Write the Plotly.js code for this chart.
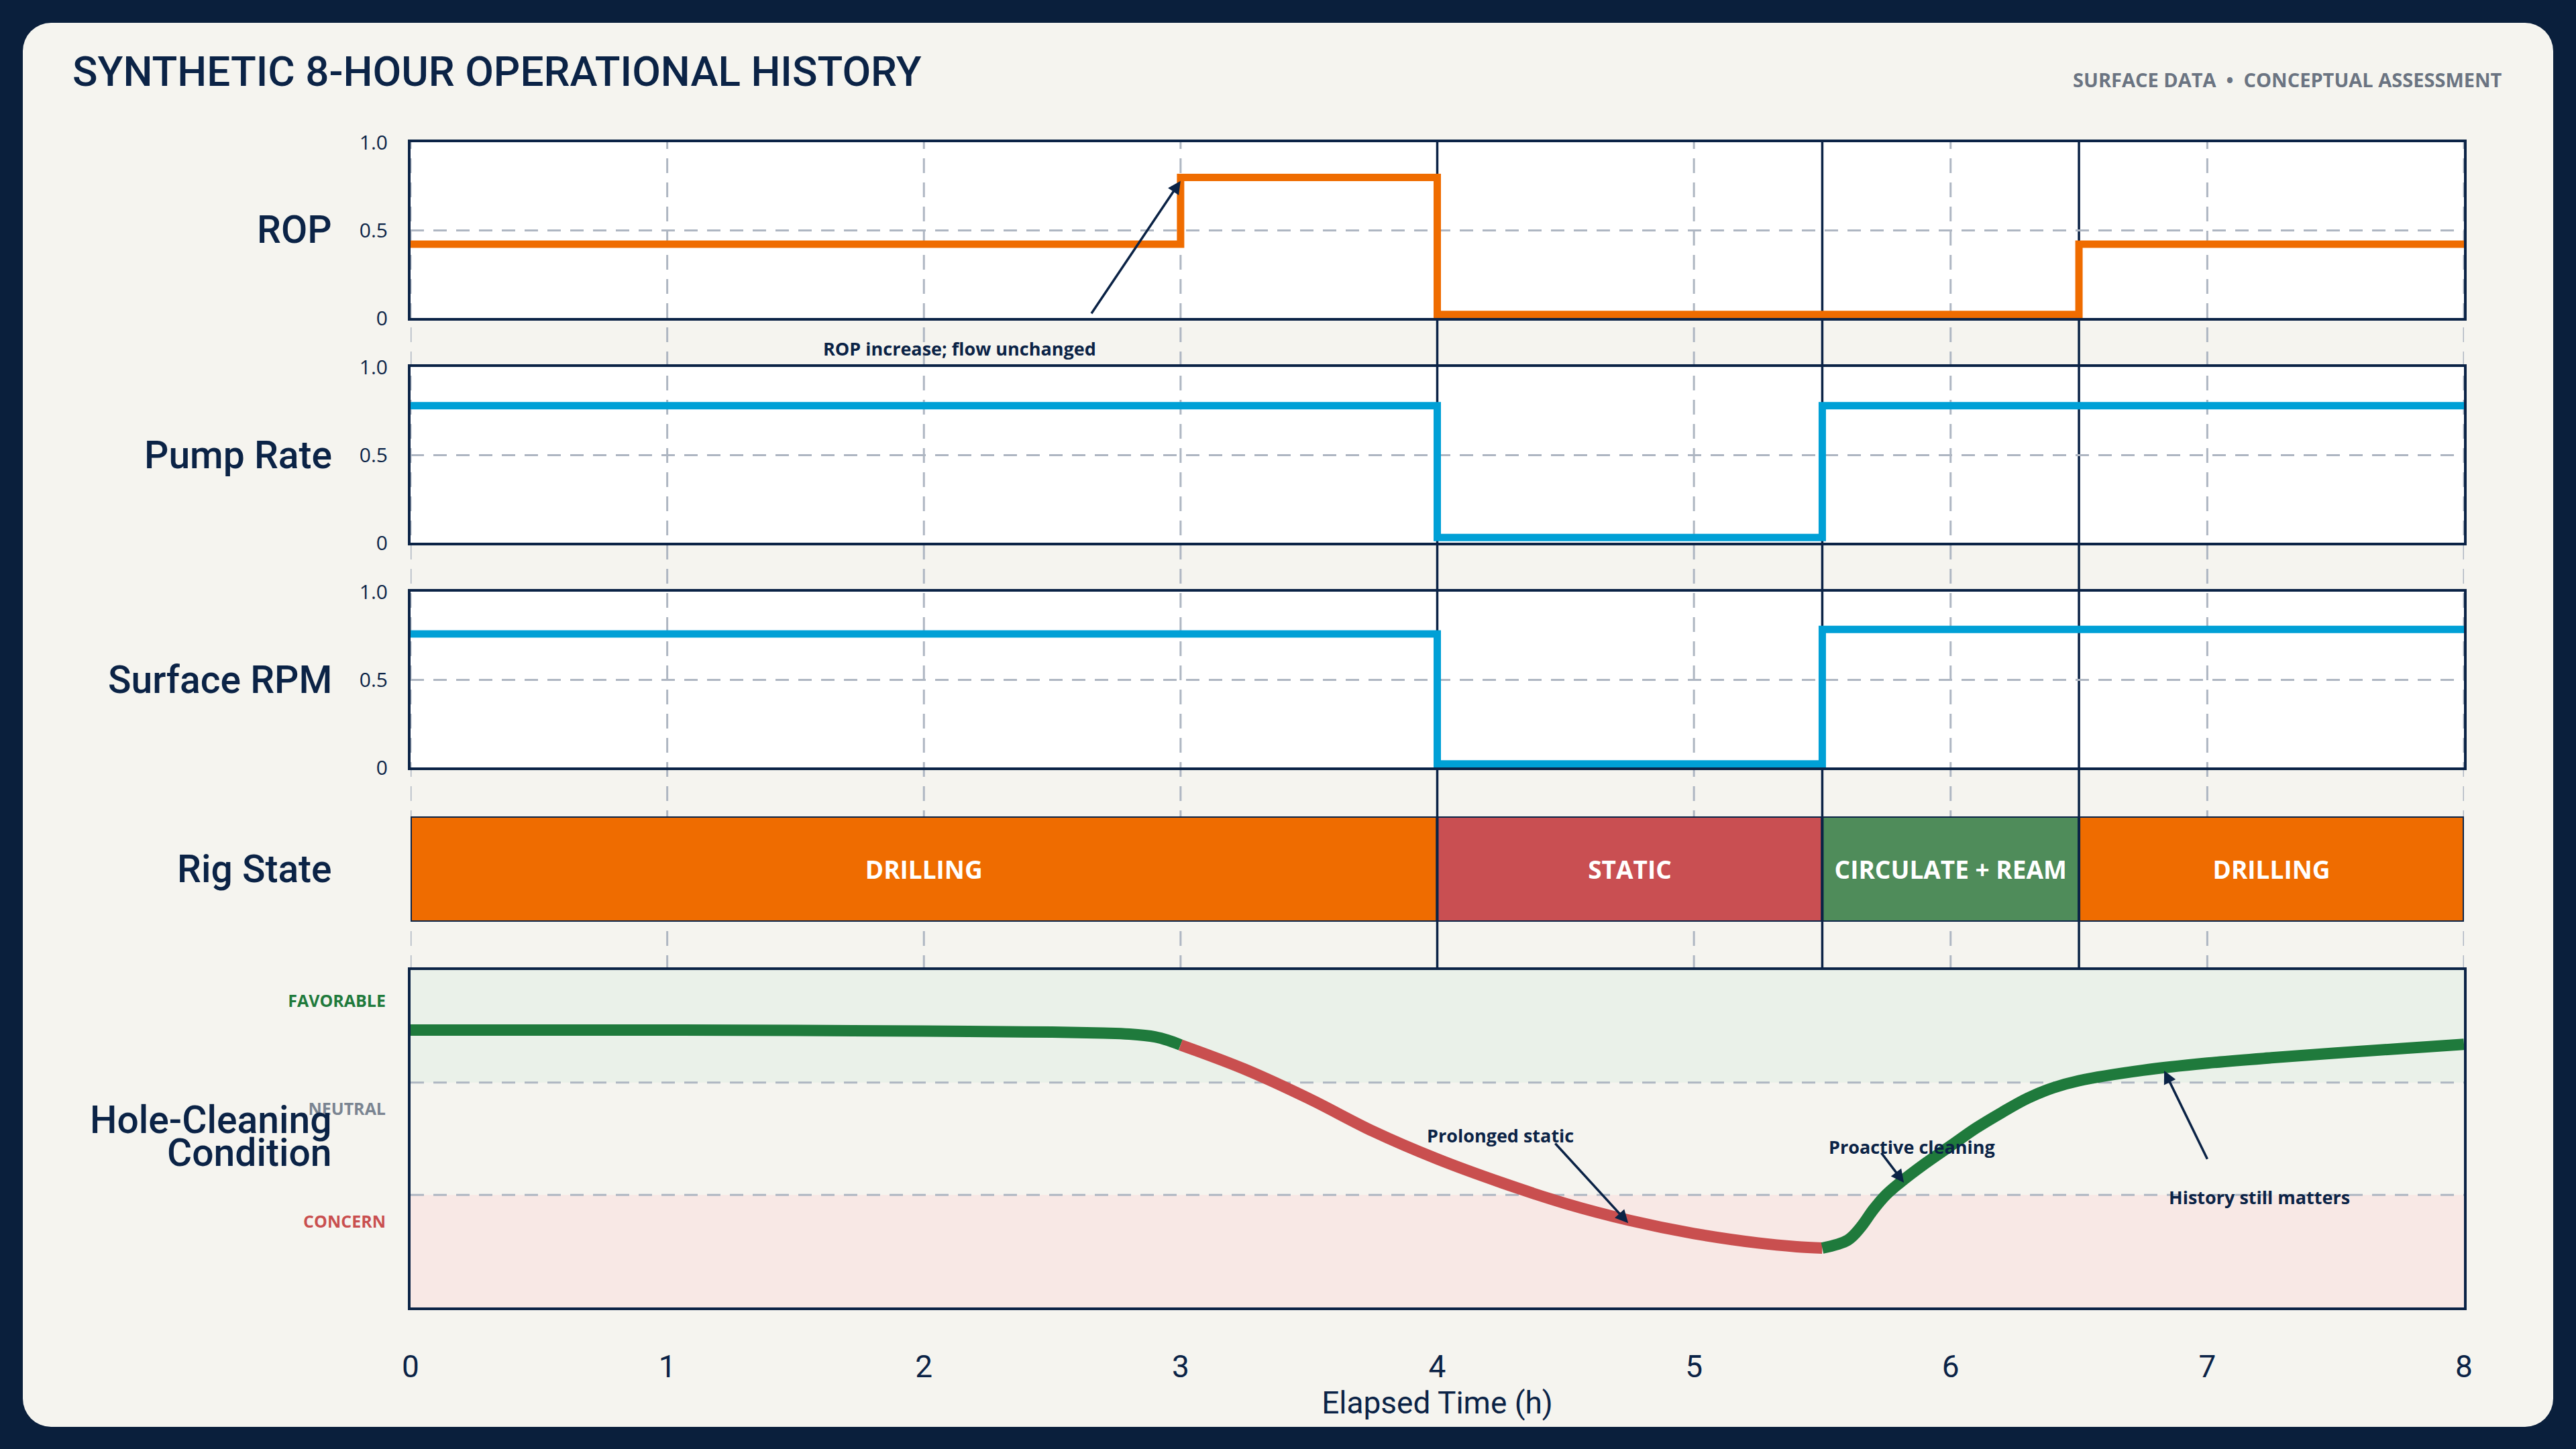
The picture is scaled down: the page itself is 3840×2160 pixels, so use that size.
<!DOCTYPE html>
<html>
<head>
<meta charset="utf-8">
<script src="https://cdn.plot.ly/plotly-3.0.1.min.js"></script>
<style>
  html, body { margin: 0; padding: 0; width: 3840px; height: 2160px; overflow: hidden; background: #0a1f3c; }
  #card { position: absolute; left: 34px; top: 34px; width: 3772px; height: 2093px; background: #f5f4ef; border-radius: 42px; }
  #chart { position: absolute; left: 0; top: 0; width: 3840px; height: 2160px; }
</style>
</head>
<body>
<div id="card"></div>
<div id="chart"></div>
<script>
// elapsed hours shown on the shared time axis
const hours = [0, 1, 2, 3, 4, 5, 6, 7, 8];

// step signals (normalised 0..1)
const ropTimes = [0, 3, 4, 6.5, 8];
const ropValues = [0.42, 0.80, 0.02, 0.42, 0.42];
const pumpTimes = [0, 4, 5.5, 8];
const pumpValues = [0.78, 0.03, 0.78, 0.78];
const rpmTimes = [0, 4, 5.5, 8];
const rpmValues = [0.76, 0.02, 0.785, 0.785];

// rig state blocks
const rigStates = ['DRILLING', 'STATIC', 'CIRCULATE + REAM', 'DRILLING'];
const rigStart = [0, 4, 5.5, 6.5];
const rigEnd = [4, 5.5, 6.5, 8];
const phaseBreaks = [4, 5.5, 6.5];

// hole-cleaning condition, split by colour
const hcDrillT = [0, 0.5, 1.0, 1.5, 2.0, 2.5, 2.7, 2.8, 2.9, 2.95, 3.0];
const hcDrillV = [0.822, 0.822, 0.822, 0.821, 0.819, 0.816, 0.813, 0.810, 0.802, 0.792, 0.778];
const hcStaticT = [3.0, 3.25, 3.5, 3.75, 4.0, 4.25, 4.5, 4.75, 5.0, 5.25, 5.4, 5.5];
const hcStaticV = [0.778, 0.706, 0.619, 0.522, 0.440, 0.370, 0.308, 0.258, 0.219, 0.191, 0.180, 0.176];
const hcRecoverT = [5.5, 5.6, 5.65, 5.7, 5.75, 5.8, 5.9, 6.0, 6.1, 6.2, 6.3, 6.4, 6.5, 6.75, 7.0, 7.25, 7.5, 7.75, 8.0];
const hcRecoverV = [0.176, 0.200, 0.238, 0.291, 0.335, 0.368, 0.426, 0.479, 0.532, 0.578, 0.620, 0.651, 0.672, 0.703, 0.724, 0.740, 0.754, 0.767, 0.780];

const conditionLabels = ['CONCERN', 'NEUTRAL', 'FAVORABLE'];
const conditionTicks = [0.253, 0.587, 0.909];
const bandEdges = [0, 1 / 3, 2 / 3, 1];

const NAVY = '#0b2346';
const ORANGE = '#ef6c00';
const BLUE = '#00a0d6';
const GREEN = '#1f7a3c';
const RED = '#c94f4f';
const GRID = '#aeb6c2';
const rigColors = [ORANGE, '#c94f52', '#4f8c5a', ORANGE];
const condColors = [RED, '#7a8491', GREEN];

// panel placement (paper fractions, margin 0)
const W = 3840, H = 2160;
const X0 = 612 / W, X1 = 3673 / W;
const dom = (top, bot) => [1 - bot / H, 1 - top / H];
const dRop = dom(212, 474), dPump = dom(547, 809), dRpm = dom(882, 1144);
const dRig = dom(1217, 1374), dHole = dom(1446, 1949);

const traces = [
  { x: ropTimes, y: ropValues, xaxis: 'x', yaxis: 'y', mode: 'lines',
    line: { shape: 'hv', color: ORANGE, width: 11 } },
  { x: pumpTimes, y: pumpValues, xaxis: 'x2', yaxis: 'y2', mode: 'lines',
    line: { shape: 'hv', color: BLUE, width: 11 } },
  { x: rpmTimes, y: rpmValues, xaxis: 'x3', yaxis: 'y3', mode: 'lines',
    line: { shape: 'hv', color: BLUE, width: 11 } },
  { type: 'bar', orientation: 'h', xaxis: 'x4', yaxis: 'y4',
    y: rigStates.map(() => 0), base: rigStart,
    x: rigEnd.map((e, i) => e - rigStart[i]),
    width: 1, text: rigStates, textposition: 'inside', insidetextanchor: 'middle',
    constraintext: 'none', textangle: 0,
    textfont: { family: 'Open Sans', size: 37, color: '#ffffff', weight: 700 },
    marker: { color: rigColors, line: { color: NAVY, width: 4 } } },
  { x: hcDrillT, y: hcDrillV, xaxis: 'x5', yaxis: 'y5', mode: 'lines',
    line: { color: GREEN, width: 17, shape: 'spline', smoothing: 1 } },
  { x: hcStaticT, y: hcStaticV, xaxis: 'x5', yaxis: 'y5', mode: 'lines',
    line: { color: RED, width: 17, shape: 'spline', smoothing: 1 } },
  { x: hcRecoverT, y: hcRecoverV, xaxis: 'x5', yaxis: 'y5', mode: 'lines',
    line: { color: GREEN, width: 17, shape: 'spline', smoothing: 1 } }
];

const xBase = {
  domain: [X0, X1], range: [0, 8], showgrid: false, zeroline: false,
  showline: true, mirror: true, linecolor: NAVY, linewidth: 4,
  ticks: '', showticklabels: false, automargin: false
};
const yBase = {
  range: [0, 1], tickvals: [0, 0.5, 1], ticktext: ['0', '0.5', '1.0'],
  showgrid: true, gridcolor: GRID, gridwidth: 3, griddash: '20px,14px',
  zeroline: false, showline: true, mirror: true, linecolor: NAVY, linewidth: 4,
  ticks: '', ticklabelstandoff: 24, automargin: false,
  tickfont: { family: 'Open Sans', size: 30, color: NAVY }
};

const shapes = [];
// white panel backgrounds
[dRop, dPump, dRpm].forEach(d => shapes.push({
  type: 'rect', layer: 'below', xref: 'paper', yref: 'paper',
  x0: X0, x1: X1, y0: d[0], y1: d[1], fillcolor: '#ffffff', line: { width: 0 }
}));
// hole-cleaning bands
shapes.push({ type: 'rect', layer: 'below', xref: 'paper', yref: 'y5', x0: X0, x1: X1,
  y0: bandEdges[2], y1: bandEdges[3], fillcolor: '#eaf1e9', line: { width: 0 } });
shapes.push({ type: 'rect', layer: 'below', xref: 'paper', yref: 'y5', x0: X0, x1: X1,
  y0: bandEdges[0], y1: bandEdges[1], fillcolor: '#f8e8e5', line: { width: 0 } });
// hourly dashed guides
hours.forEach(h => shapes.push({
  type: 'line', layer: 'below', xref: 'x', yref: 'paper', x0: h, x1: h,
  y0: dHole[1], y1: dRop[1], line: { color: GRID, width: 3, dash: '22px,14px' }
}));
// phase boundaries
phaseBreaks.forEach(h => shapes.push({
  type: 'line', layer: 'below', xref: 'x', yref: 'paper', x0: h, x1: h,
  y0: dHole[1], y1: dRop[1], line: { color: NAVY, width: 3.5 }
}));
// condition band separators
[bandEdges[1], bandEdges[2]].forEach(v => shapes.push({
  type: 'line', layer: 'below', xref: 'paper', yref: 'y5', x0: X0, x1: X1,
  y0: v, y1: v, line: { color: GRID, width: 3, dash: '20px,14px' }
}));

const labelFont = { family: 'Roboto', size: 57, color: NAVY, weight: 500 };
const noteFont = { family: 'Open Sans', size: 27, color: NAVY, weight: 700 };
const LX = 497 / W;
const panelLabel = (text, yref, y) => ({
  text, xref: 'paper', x: LX, xanchor: 'right', yref, y, yanchor: 'middle',
  showarrow: false, font: labelFont, align: 'right'
});
const arrow = (xr, yr, x, y, ax, ay) => ({
  text: '', xref: xr, yref: yr, x, y, axref: xr, ayref: yr, ax, ay,
  showarrow: true, arrowhead: 2, arrowsize: 1.1, arrowwidth: 3.5, arrowcolor: NAVY,
  font: { size: 1 }
});
const note = (xr, yr, x, y, text) => ({
  text, xref: xr, yref: yr, x, y, xanchor: 'center', yanchor: 'middle',
  showarrow: false, font: noteFont
});

const annotations = [
  { text: 'SURFACE DATA\u00a0\u00a0\u2022\u00a0\u00a0CONCEPTUAL ASSESSMENT', xref: 'paper', yref: 'paper',
    x: 3732 / W, y: 1 - 119 / H, xanchor: 'right', yanchor: 'middle', showarrow: false,
    font: { family: 'Open Sans', size: 29, color: '#6b7482', weight: 700 } },
  panelLabel('ROP', 'y domain', 0.5),
  panelLabel('Pump Rate', 'y2 domain', 0.5),
  panelLabel('Surface RPM', 'y3 domain', 0.5),
  panelLabel('Rig State', 'y4 domain', 0.5),
  panelLabel('Hole-Cleaning', 'y5 domain', 0.555),
  panelLabel('Condition', 'y5 domain', 0.459),
  arrow('x', 'y', 3.0, 0.78, 2.65, 0.02),
  note('x', 'paper', 2.14, 1 - 519 / H, 'ROP increase; flow unchanged'),
  arrow('x5', 'y5', 4.744, 0.25, 4.456, 0.489),
  note('x5', 'y5', 4.245, 0.509, 'Prolonged static'),
  arrow('x5', 'y5', 5.818, 0.37, 5.727, 0.461),
  note('x5', 'y5', 5.85, 0.477, 'Proactive cleaning'),
  arrow('x5', 'y5', 6.832, 0.702, 7.002, 0.437),
  note('x5', 'y5', 7.203, 0.328, 'History still matters')
];

const layout = {
  width: W, height: H,
  margin: { l: 0, r: 0, t: 0, b: 0, autoexpand: false },
  paper_bgcolor: 'rgba(0,0,0,0)',
  plot_bgcolor: 'rgba(0,0,0,0)',
  showlegend: false,
  title: {
    text: 'SYNTHETIC 8-HOUR OPERATIONAL HISTORY',
    xref: 'paper', yref: 'paper', x: 108 / W, y: 1 - 106 / H,
    xanchor: 'left', yanchor: 'middle',
    font: { family: 'Roboto', size: 62, color: NAVY, weight: 500 }
  },
  xaxis: Object.assign({}, xBase, { anchor: 'y' }),
  xaxis2: Object.assign({}, xBase, { anchor: 'y2', matches: 'x' }),
  xaxis3: Object.assign({}, xBase, { anchor: 'y3', matches: 'x' }),
  xaxis4: Object.assign({}, xBase, { anchor: 'y4', matches: 'x', showline: false }),
  xaxis5: Object.assign({}, xBase, {
    anchor: 'y5', matches: 'x', showticklabels: true, tickvals: hours,
    ticklabelstandoff: 45,
    tickfont: { family: 'Roboto', size: 46, color: NAVY },
    title: { text: 'Elapsed Time (h)', standoff: 4, font: { family: 'Roboto', size: 46, color: NAVY } }
  }),
  yaxis: Object.assign({}, yBase, { domain: dRop, anchor: 'x' }),
  yaxis2: Object.assign({}, yBase, { domain: dPump, anchor: 'x2' }),
  yaxis3: Object.assign({}, yBase, { domain: dRpm, anchor: 'x3' }),
  yaxis4: { domain: dRig, anchor: 'x4', range: [-0.5, 0.5], showgrid: false, zeroline: false,
    showline: false, showticklabels: false, ticks: '' },
  yaxis5: Object.assign({}, yBase, {
    domain: dHole, anchor: 'x5', showgrid: false, tickvals: conditionTicks,
    ticklabelstandoff: 28,
    ticktext: conditionLabels.map((t, i) => '<b><span style="color:' + condColors[i] + '">' + t + '</span></b>'),
    tickfont: { family: 'Open Sans', size: 25, color: NAVY }
  }),
  shapes, annotations
};

Plotly.newPlot('chart', traces, layout, { staticPlot: true, displayModeBar: false });
</script>
</body>
</html>
